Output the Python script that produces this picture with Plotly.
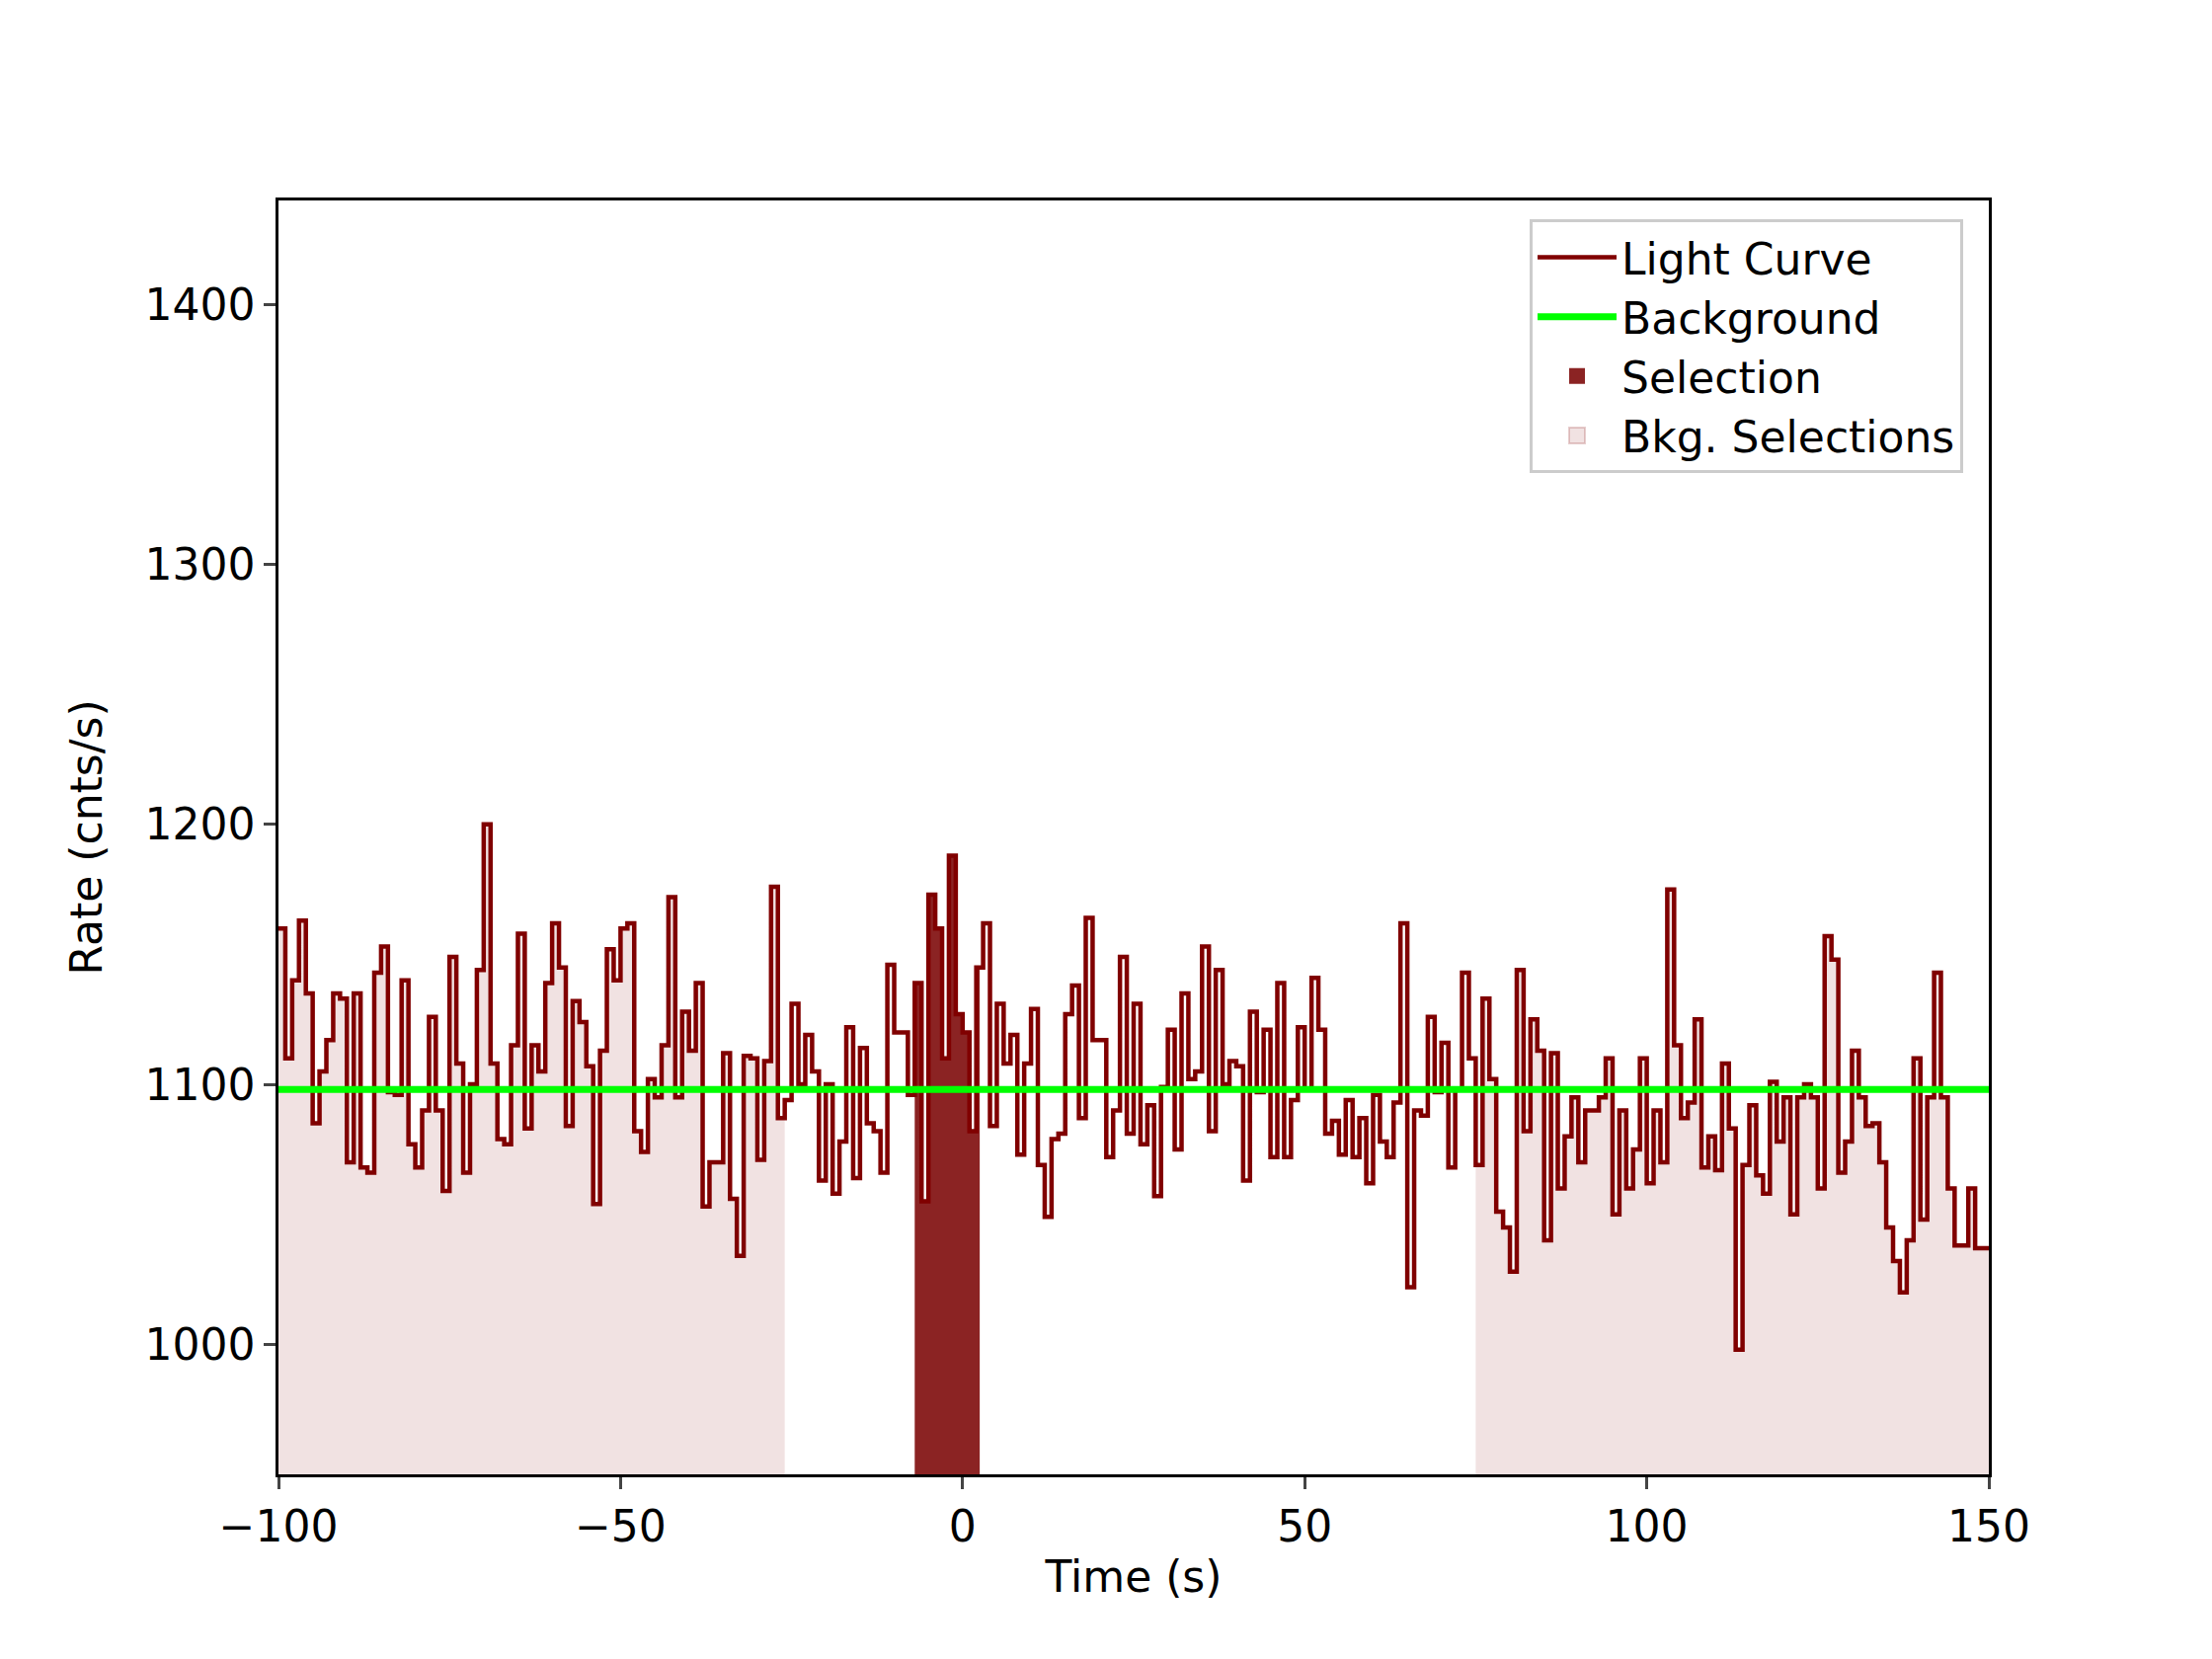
import numpy as np
import plotly.graph_objects as go

bin_width = 1.0
t_start = -100.0
rates = [
    1160, 1110, 1140, 1163, 1135, 1085, 1105, 1117, 1135, 1133, 1070, 1135, 1068, 1066, 1143, 1153, 1097, 1096, 1140, 1077,
    1068, 1090, 1126, 1090, 1059, 1149, 1108, 1066, 1100, 1144, 1200, 1108, 1079, 1077, 1115, 1158, 1083, 1115, 1105, 1139,
    1162, 1145, 1084, 1132, 1124, 1107, 1054, 1113, 1152, 1140, 1160, 1162, 1082, 1074, 1102, 1095, 1115, 1172, 1095, 1128,
    1113, 1139, 1053, 1070, 1070, 1112, 1056, 1034, 1111, 1110, 1071, 1109, 1176, 1087, 1094, 1131, 1100, 1119, 1105, 1063,
    1100, 1058, 1078, 1122, 1064, 1114, 1085, 1082, 1066, 1146, 1120, 1120, 1096, 1139, 1055, 1173, 1160, 1110, 1188, 1127,
    1120, 1082, 1145, 1162, 1084, 1131, 1108, 1119, 1073, 1108, 1129, 1069, 1049, 1079, 1081, 1127, 1138, 1087, 1164, 1117,
    1117, 1072, 1090, 1149, 1081, 1131, 1077, 1092, 1057, 1099, 1121, 1075, 1135, 1102, 1105, 1153, 1082, 1144, 1100, 1109,
    1107, 1063, 1128, 1097, 1121, 1072, 1139, 1072, 1094, 1122, 1098, 1141, 1121, 1081, 1086, 1073, 1094, 1072, 1087, 1062,
    1096, 1078, 1072, 1093, 1162, 1022, 1090, 1088, 1126, 1097, 1116, 1068, 1098, 1143, 1110, 1069, 1133, 1102, 1051, 1045,
    1028, 1144, 1082, 1125, 1113, 1040, 1112, 1060, 1080, 1095, 1070, 1090, 1090, 1095, 1110, 1050, 1090, 1060, 1075, 1110,
    1062, 1090, 1070, 1175, 1115, 1087, 1093, 1125, 1068, 1080, 1067, 1108, 1083, 998, 1069, 1092, 1065, 1058, 1101,
    1078, 1095, 1050, 1095, 1100, 1095, 1060, 1157, 1148, 1066, 1078, 1113, 1095, 1084, 1085, 1070, 1045, 1032, 1020, 1040,
    1110, 1048, 1095, 1143, 1095, 1060, 1038, 1038, 1060, 1037, 1037,
]
background = 1098
selection = (-7.0, 2.5)
bkg_selections = [(-100.0, -26.0), (75.0, 151.0)]

edges = t_start + bin_width * np.arange(len(rates) + 1)
r = np.array(rates, dtype=float)
xs = edges
ys = np.append(r, r[-1])

fig = go.Figure()

def segment(lo, hi):
    m = (edges[:-1] >= lo - 1e-9) & (edges[:-1] < hi)
    idx = np.where(m)[0]
    sx = np.append(edges[idx], min(edges[idx[-1] + 1], hi))
    sy = np.append(r[idx], r[idx[-1]])
    return sx, sy

for lo, hi in bkg_selections:
    sx, sy = segment(lo, hi)
    fig.add_trace(go.Scatter(x=sx, y=sy, mode="lines", line_shape="hv", line=dict(width=0),
                             fill="tozeroy", fillcolor="rgba(160,60,60,0.15)",
                             showlegend=False, hoverinfo="skip"))

sx, sy = segment(*selection)
fig.add_trace(go.Scatter(x=sx, y=sy, mode="lines", line_shape="hv", line=dict(width=0),
                         fill="tozeroy", fillcolor="#8b2323", showlegend=False, hoverinfo="skip"))

fig.add_trace(go.Scatter(x=xs, y=ys, mode="lines", line_shape="hv",
                         line=dict(color="#800000", width=4.5), name="Light Curve"))
fig.add_trace(go.Scatter(x=[-100, 150], y=[background, background], mode="lines",
                         line=dict(color="#00ff00", width=7), name="Background"))
# legend-only entries for fills
fig.add_trace(go.Scatter(x=[None], y=[None], mode="markers",
                         marker=dict(symbol="square", size=38, color="#8b2323"), name="Selection"))
fig.add_trace(go.Scatter(x=[None], y=[None], mode="markers",
                         marker=dict(symbol="square", size=38, color="rgba(160,60,60,0.15)",
                                     line=dict(color="rgba(160,60,60,0.25)", width=2)),
                         name="Bkg. Selections"))

axis = dict(showline=True, linecolor="black", linewidth=2.5, mirror=True, ticks="outside",
            ticklen=12, tickwidth=2.5, showgrid=False, zeroline=False,
            tickfont=dict(size=44, color="black"))
fig.update_layout(
    width=2240, height=1680, plot_bgcolor="white", paper_bgcolor="white",
    font=dict(family="DejaVu Sans", size=44, color="black"),
    margin=dict(l=274, r=234, t=195, b=195),
    xaxis=dict(axis, range=[-100, 150], tickvals=[-100, -50, 0, 50, 100, 150],
               ticktext=["\u2212100", "\u221250", "0", "50", "100", "150"],
               title=dict(text="Time (s)", font=dict(size=44), standoff=12)),
    yaxis=dict(axis, range=[950, 1440], tickvals=[1000, 1100, 1200, 1300, 1400],
               title=dict(text="Rate (cnts/s)", font=dict(size=44), standoff=30)),
    legend=dict(x=0.985, y=0.985, xanchor="right", yanchor="top", bgcolor="white",
                bordercolor="#cccccc", borderwidth=3, font=dict(size=44), itemwidth=80,
                tracegroupgap=12),
)
fig.write_html("out.html")
